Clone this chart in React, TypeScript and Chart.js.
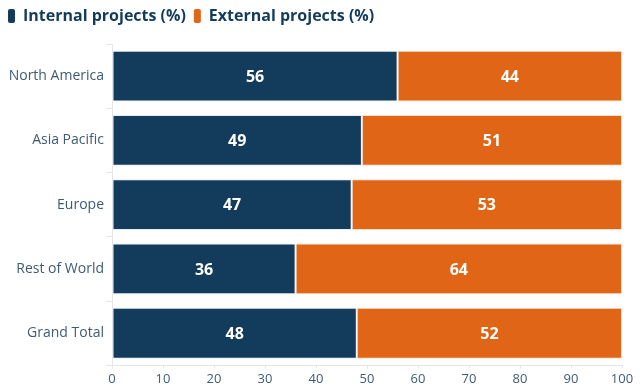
import React, { useEffect, useRef } from "react";
import { Chart, registerables } from "chart.js";

Chart.register(...registerables);

const categories = ["North America", "Asia Pacific", "Europe", "Rest of World", "Grand Total"];
const internalValues = [56, 49, 47, 36, 48];
const externalValues = [44, 51, 53, 64, 52];
const seriesNames = ["Internal projects (%)", "External projects (%)"];
const xTicks = [0, 10, 20, 30, 40, 50, 60, 70, 80, 90, 100];

const NAVY = "#133b5c";
const ORANGE = "#e06516";
const LABEL = "#3f5b74";
const FONT = "'Open Sans', 'Noto Sans', sans-serif";

const valueLabels = {
  id: "valueLabels",
  afterDatasetsDraw(chart: any) {
    const ctx = chart.ctx;
    ctx.save();
    ctx.fillStyle = "#ffffff";
    ctx.font = `bold 16px ${FONT}`;
    ctx.textAlign = "center";
    ctx.textBaseline = "middle";
    chart.data.datasets.forEach((ds: any, di: number) => {
      const meta = chart.getDatasetMeta(di);
      meta.data.forEach((bar: any, i: number) => {
        const { x, y, base } = bar.getProps(["x", "y", "base"], true);
        ctx.fillText(String(ds.data[i]), (x + base) / 2, y + 1);
      });
    });
    ctx.restore();
  },
};

const legendSpacing = {
  id: "legendSpacing",
  beforeInit(chart: any) {
    const legend = chart.legend;
    if (!legend) return;
    const origFit = legend.fit;
    legend.fit = function () {
      origFit.call(this);
      this.height += 10;
    };
  },
};

export default function App() {
  const ref = useRef<HTMLCanvasElement>(null);
  useEffect(() => {
    if (!ref.current) return;
    const chart = new Chart(ref.current, {
      type: "bar",
      data: {
        labels: categories,
        datasets: [
          {
            label: seriesNames[0],
            data: internalValues,
            backgroundColor: NAVY,
            borderColor: "rgba(230,235,240,0.9)",
            borderWidth: 1,
            borderSkipped: false,
            categoryPercentage: 1,
            barPercentage: 0.79,
          },
          {
            label: seriesNames[1],
            data: externalValues,
            backgroundColor: ORANGE,
            borderColor: "rgba(245,220,200,0.9)",
            borderWidth: 1,
            borderSkipped: false,
            categoryPercentage: 1,
            barPercentage: 0.79,
          },
        ],
      },
      plugins: [legendSpacing, valueLabels],
      options: {
        indexAxis: "y",
        animation: false,
        responsive: false,
        layout: { padding: { left: 0, right: 18, top: 0, bottom: 0 } },
        plugins: {
          legend: {
            position: "top",
            align: "start",
            labels: {
              color: NAVY,
              font: { family: FONT, size: 16, weight: "bold" },
              boxWidth: 7,
              boxHeight: 14,
              padding: 8,
              useBorderRadius: true,
              borderRadius: 2,
              generateLabels: (chart: any) =>
                chart.data.datasets.map((ds: any, i: number) => ({
                  text: ds.label,
                  fillStyle: ds.backgroundColor,
                  strokeStyle: ds.backgroundColor,
                  lineWidth: 0,
                  borderRadius: 2,
                  datasetIndex: i,
                  fontColor: NAVY,
                })),
            },
          },
          tooltip: { enabled: false },
        },
        scales: {
          x: {
            stacked: true,
            min: 0,
            max: 100,
            afterBuildTicks: (axis: any) => {
              axis.ticks = xTicks.map((v) => ({ value: v }));
            },
            grid: { drawOnChartArea: false, tickLength: 3, tickColor: "#e3e6ea" },
            border: { display: true, color: "#e3e6ea" },
            ticks: { color: LABEL, font: { family: FONT, size: 13 }, padding: 3 },
          },
          y: {
            stacked: true,
            afterFit: (axis: any) => {
              axis.width = 112;
            },
            grid: { drawOnChartArea: false, tickLength: 6, tickColor: "#e3e6ea" },
            border: { display: true, color: "#e3e6ea" },
            ticks: { color: LABEL, font: { family: FONT, size: 14 }, padding: 2 },
          },
        },
      },
    });
    return () => chart.destroy();
  }, []);
  return (
    <div style={{ position: "absolute", left: 0, top: 0, width: 640, height: 390, background: "#fff" }}>
      <canvas ref={ref} width={640} height={390} style={{ display: "block" }} />
    </div>
  );
}
